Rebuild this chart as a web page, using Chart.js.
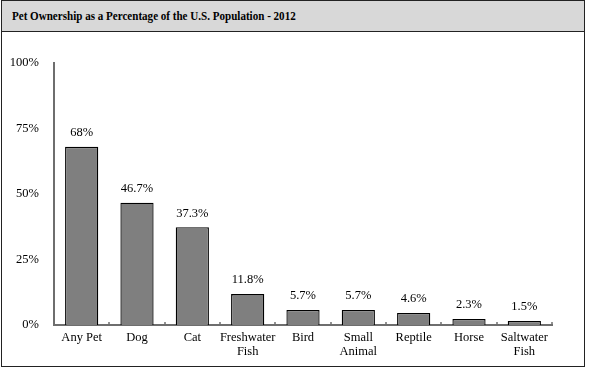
<!DOCTYPE html>
<html>
<head>
<meta charset="utf-8">
<script src="https://cdn.jsdelivr.net/npm/chart.js@4"></script>
<style>
  html, body { margin: 0; padding: 0; background: #fff; }
  #frame {
    position: absolute; left: 1px; top: 0; width: 582px; height: 365px;
    border: 1.5px solid #222; box-sizing: content-box;
  }
  #titlebar {
    position: absolute; left: 0; top: 0; right: 0; height: 30px;
    background: #d8d8d8; border-bottom: 1px solid #222;
  }
  #titlebar span {
    position: absolute; left: 10px; top: 0;
    font: bold 12.5px "Liberation Serif", "Times New Roman", serif;
    line-height: 31px; color: #000; white-space: nowrap;
    transform: scaleX(0.885); transform-origin: left center;
  }
  #wrap { position: absolute; left: 0; top: 0; width: 589px; height: 372px; }
</style>
</head>
<body>
<div id="frame"><div id="titlebar"><span>Pet Ownership as a Percentage of the U.S. Population - 2012</span></div></div>
<div id="wrap"><canvas id="chart" width="589" height="372"></canvas></div>
<script>
const categories = [
  ["Any Pet"], ["Dog"], ["Cat"], ["Freshwater", "Fish"], ["Bird"],
  ["Small", "Animal"], ["Reptile"], ["Horse"], ["Saltwater", "Fish"]
];
const ownership = [68, 46.7, 37.3, 11.8, 5.7, 5.7, 4.6, 2.3, 1.5];
const valueLabels = ["68%", "46.7%", "37.3%", "11.8%", "5.7%", "5.7%", "4.6%", "2.3%", "1.5%"];
const yTicks = [0, 25, 50, 75, 100];

const serif = '"Liberation Serif", "Times New Roman", serif';

// small upward tick marks between categories + value labels above bars
const decorations = {
  id: 'decorations',
  afterDatasetsDraw(chart) {
    const ctx = chart.ctx;
    const x = chart.scales.x;
    const bottom = chart.chartArea.bottom;
    const half = (x.getPixelForValue(1) - x.getPixelForValue(0)) / 2;
    ctx.save();
    ctx.strokeStyle = '#6e6e6e';
    ctx.lineWidth = 1.5;
    for (let i = 0; i < categories.length; i++) {
      const px = Math.round(x.getPixelForValue(i) + half);
      ctx.beginPath();
      ctx.moveTo(px, bottom);
      ctx.lineTo(px, bottom - 3);
      ctx.stroke();
    }
    ctx.fillStyle = '#000';
    ctx.font = '12.5px ' + serif;
    ctx.textAlign = 'center';
    ctx.textBaseline = 'middle';
    chart.getDatasetMeta(0).data.forEach((bar, i) => {
      ctx.fillText(valueLabels[i], bar.x, bar.y - 14);
    });
    ctx.restore();
  }
};

new Chart(document.getElementById('chart'), {
  type: 'bar',
  data: {
    labels: categories,
    datasets: [{
      data: ownership,
      backgroundColor: '#7f7f7f',
      borderColor: '#000',
      borderWidth: 1.3,
      categoryPercentage: 1,
      barPercentage: 0.6
    }]
  },
  options: {
    responsive: false,
    animation: false,
    devicePixelRatio: 1,
    layout: { padding: { top: 63, right: 37, left: 0, bottom: 0 } },
    plugins: { legend: { display: false }, tooltip: { enabled: false } },
    scales: {
      x: {
        grid: { display: false, drawTicks: false },
        border: { display: true, color: '#6e6e6e', width: 2 },
        ticks: {
          color: '#000', padding: 6, maxRotation: 0, autoSkip: false,
          font: { family: serif, size: 12.5, lineHeight: 1.08 }
        },
        afterFit(scale) { scale.height = 47; }
      },
      y: {
        min: 0, max: 100,
        afterBuildTicks(scale) { scale.ticks = yTicks.map(v => ({ value: v })); },
        grid: { display: false, drawTicks: false },
        border: { display: true, color: '#6e6e6e', width: 2 },
        ticks: {
          color: '#000', padding: 15,
          font: { family: serif, size: 12.5 },
          callback: v => v + '%'
        },
        afterFit(scale) { scale.width = 54; }
      }
    }
  },
  plugins: [decorations]
});
</script>
</body>
</html>
